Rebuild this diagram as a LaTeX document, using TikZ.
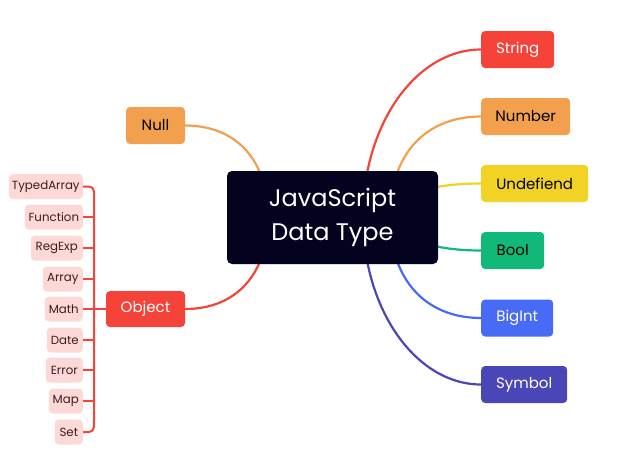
\documentclass[tikz,border=0pt]{standalone}
\usepackage{fontspec}
\setmainfont{Poppins}
\pgfdeclarelayer{background}
\pgfsetlayers{background,main}
\definecolor{cred}{HTML}{F5433A}
\definecolor{corange}{HTML}{F2A04E}
\definecolor{cyellow}{HTML}{F2D224}
\definecolor{cgreen}{HTML}{10B978}
\definecolor{cblue}{HTML}{486BF6}
\definecolor{cindigo}{HTML}{4B46B7}
\definecolor{cnavy}{HTML}{030320}
\definecolor{cpink}{HTML}{FCD8D6}
\definecolor{cdark}{HTML}{3C1E1E}
\tikzset{
  centerbox/.style={fill=cnavy, rounded corners=5pt, minimum width=211pt, minimum height=93pt, align=center, text=white, font=\fontsize{24}{34}\selectfont},
  mainbox/.style={rounded corners=4pt, minimum height=37pt, inner sep=0pt, font=\fontsize{15}{18}\selectfont},
  smallbox/.style={fill=cpink, rounded corners=4pt, minimum height=25pt, inner sep=0pt, anchor=east, text=cdark, font=\fontsize{11.8}{14}\selectfont},
  link/.style={line width=2.2pt},
  objlink/.style={draw=cred, line width=2pt},
}
\begin{document}
\begin{tikzpicture}[x=1pt,y=-1pt]
\useasboundingbox (0,0) rectangle (622,463);
\node[centerbox] (c) at (332.5,217.5) {JavaScript\\Data Type};
\node[mainbox, fill=cred, text=white, minimum width=73pt, anchor=west] (String) at (481,49.5) {String};
\node[mainbox, fill=corange, text=black, minimum width=89pt, anchor=west] (Number) at (481,116.5) {Number};
\node[mainbox, fill=cyellow, text=black, minimum width=107pt, anchor=west] (Undef) at (481,183.5) {Undefiend};
\node[mainbox, fill=cgreen, text=black, minimum width=63pt, anchor=west] (Bool) at (481,250.5) {Bool};
\node[mainbox, fill=cblue, text=white, minimum width=72pt, anchor=west] (BigInt) at (481,318) {BigInt};
\node[mainbox, fill=cindigo, text=white, minimum width=86pt, anchor=west] (Symbol) at (481,384.5) {Symbol};
\node[mainbox, fill=corange, text=black, minimum width=59pt] (Null) at (155.5,125.5) {Null};
\node[mainbox, fill=cred, text=white, minimum width=79pt, minimum height=36pt] (Object) at (145.5,309) {Object};
\node[smallbox, minimum width=74pt] (TypedArray) at (83,186.5) {TypedArray};
\node[smallbox, minimum width=58pt] (Function) at (83,217) {Function};
\node[smallbox, minimum width=52pt] (RegExp) at (83,248) {RegExp};
\node[smallbox, minimum width=40pt] (Array) at (83,279) {Array};
\node[smallbox, minimum width=38pt] (Math) at (83,309) {Math};
\node[smallbox, minimum width=36pt] (Date) at (83,340) {Date};
\node[smallbox, minimum width=37pt] (Error) at (83,370) {Error};
\node[smallbox, minimum width=34pt] (Map) at (83,401) {Map};
\node[smallbox, minimum width=28pt] (Set) at (83,432) {Set};
\begin{pgfonlayer}{background}
\coordinate (sA) at (363,217);
\coordinate (sB) at (390,217);
\coordinate (sC) at (395,217);
\coordinate (sL) at (268,217);
\draw[link, cred] (sA) .. controls +(0,-92.5) and +(-65,0) .. (String.west);
\draw[link, corange] (sB) .. controls +(0,-62) and +(-56,0) .. (Number.west);
\draw[link, cyellow] (sB) .. controls +(0,-20) and +(-55,0) .. (Undef.west);
\draw[link, cgreen] (sC) .. controls +(0,20) and +(-52,0) .. (Bool.west);
\draw[link, cblue] (sB) .. controls +(0,62) and +(-56,0) .. (BigInt.west);
\draw[link, cindigo] (sA) .. controls +(0,92.5) and +(-65,0) .. (Symbol.west);
\draw[link, corange] (sL) .. controls +(0,-57) and +(51,0) .. (Null.east);
\draw[link, cred] (sL) .. controls +(0,57) and +(51,0) .. (Object.east);
\coordinate (bt) at (94,186.5);
\coordinate (bb) at (94,432);
\path[objlink, rounded corners=5pt] (TypedArray.east) -- (bt) -- (bb) -- (Set.east);
\path[objlink] (Function.east) -- (Function.east -| bt);
\path[objlink] (RegExp.east) -- (RegExp.east -| bt);
\path[objlink] (Array.east) -- (Array.east -| bt);
\path[objlink] (Date.east) -- (Date.east -| bt);
\path[objlink] (Error.east) -- (Error.east -| bt);
\path[objlink] (Map.east) -- (Map.east -| bt);
\path[objlink] (Math.east) -- (Object.west);
\end{pgfonlayer}
\end{tikzpicture}
\end{document}
